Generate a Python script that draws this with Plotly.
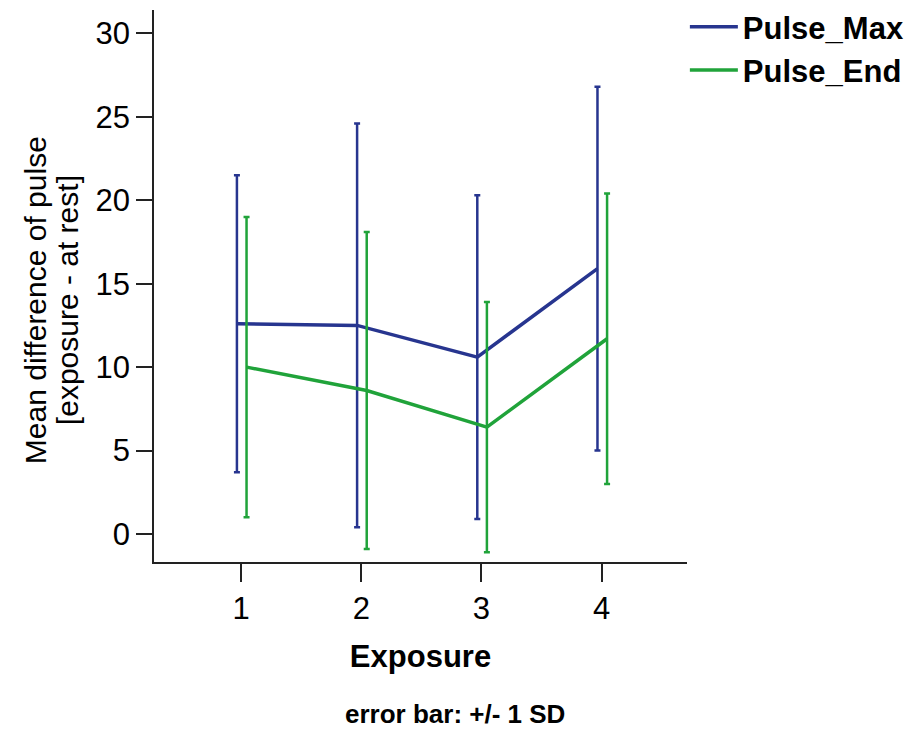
import plotly.graph_objects as go

exposure = [1, 2, 3, 4]
tick_labels = ["1", "2", "3", "4"]
y_ticks = [0, 5, 10, 15, 20, 25, 30]
pulse_max_mean = [12.6, 12.5, 10.6, 15.9]
pulse_max_sd = [8.9, 12.1, 9.7, 10.9]
pulse_end_mean = [10.0, 8.6, 6.4, 11.7]
pulse_end_sd = [9.0, 9.5, 7.5, 8.7]

BLUE = "#27358f"
GREEN = "#20a33a"
FONT = "Liberation Sans, Arial, sans-serif"
OFF_MAX = -0.035
OFF_END = 0.045

fig = go.Figure()
fig.add_trace(go.Scatter(
    x=[e + OFF_MAX for e in exposure], y=pulse_max_mean, mode="lines",
    name="<b>Pulse_Max</b>", line=dict(color=BLUE, width=3.5),
    error_y=dict(type="data", array=pulse_max_sd, visible=True,
                 color=BLUE, thickness=2.5, width=3),
))
fig.add_trace(go.Scatter(
    x=[e + OFF_END for e in exposure], y=pulse_end_mean, mode="lines",
    name="<b>Pulse_End</b>", line=dict(color=GREEN, width=3.5),
    error_y=dict(type="data", array=pulse_end_sd, visible=True,
                 color=GREEN, thickness=2.5, width=3),
))

fig.update_layout(
    width=914, height=726,
    margin=dict(l=146, r=235, t=2, b=172, autoexpand=False),
    plot_bgcolor="white", paper_bgcolor="white",
    font=dict(family=FONT, color="black"),
    showlegend=True,
    legend=dict(x=0.996, y=1.018, xanchor="left", yanchor="top",
                font=dict(size=31, family=FONT), bgcolor="rgba(0,0,0,0)",
                tracegroupgap=0, itemwidth=48),
    xaxis=dict(
        range=[0.275, 4.71], tickmode="array", tickvals=exposure, ticktext=tick_labels,
        showgrid=False, zeroline=False, showline=True, linecolor="#222222", linewidth=1.5,
        ticks="outside", ticklen=18, tickwidth=2, tickcolor="#222222",
        tickfont=dict(size=31, family=FONT),
        title=dict(text="<b>Exposure</b>", font=dict(size=31, family=FONT), standoff=20),
    ),
    yaxis=dict(
        range=[-1.68, 31.4], tickmode="array", tickvals=y_ticks,
        showgrid=False, zeroline=False, showline=True, linecolor="#222222", linewidth=1.5,
        ticks="outside", ticklen=16, tickwidth=2, tickcolor="#222222",
        tickfont=dict(size=31, family=FONT),
    ),
    annotations=[
        dict(text="Mean difference of pulse", xref="paper", yref="paper",
             x=-0.223, y=0.4746, xanchor="center", yanchor="middle", textangle=-90,
             showarrow=False, font=dict(size=30, family=FONT)),
        dict(text="[exposure - at rest]", xref="paper", yref="paper",
             x=-0.163, y=0.4746, xanchor="center", yanchor="middle", textangle=-90,
             showarrow=False, font=dict(size=30, family=FONT)),
        dict(text="<b>error bar: +/- 1 SD</b>", xref="paper", yref="paper",
             x=0.565, y=-0.306, xanchor="center", yanchor="bottom", showarrow=False,
             font=dict(size=26, family=FONT)),
    ],
)

fig.write_html("out.html")
